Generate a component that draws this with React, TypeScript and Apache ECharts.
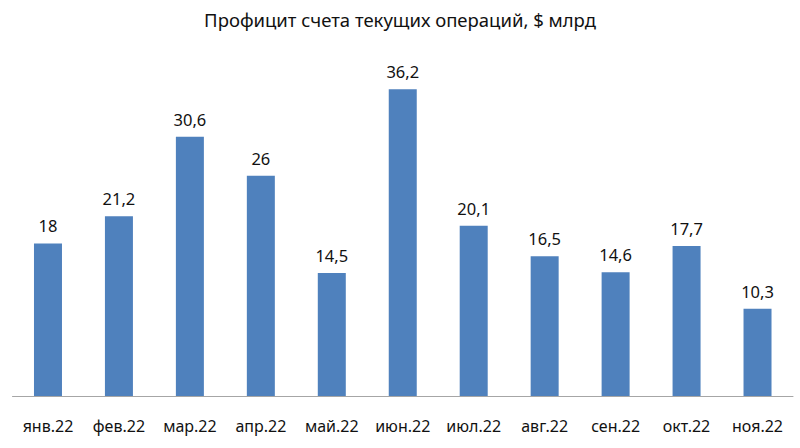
import React, { useEffect, useRef } from "react";
import * as echarts from "echarts";

const categories = ["янв.22", "фев.22", "мар.22", "апр.22", "май.22", "июн.22", "июл.22", "авг.22", "сен.22", "окт.22", "ноя.22"];
const values = [18, 21.2, 30.6, 26, 14.5, 36.2, 20.1, 16.5, 14.6, 17.7, 10.3];
const title = "Профицит счета текущих операций, $ млрд";

export default function App() {
  const ref = useRef<HTMLDivElement>(null);
  useEffect(() => {
    if (!ref.current) return;
    const chart = echarts.init(ref.current, undefined, { renderer: "svg" });
    const font = "'Noto Sans', 'Open Sans', sans-serif";
    chart.setOption({
      animation: false,
      backgroundColor: "#ffffff",
      title: {
        text: title,
        left: "center",
        top: 5,
        textStyle: { fontFamily: font, fontSize: 18.5, fontWeight: "normal", color: "#111" },
      },
      grid: { left: 12.5, right: 7, top: 57, bottom: 52 },
      xAxis: {
        type: "category",
        data: categories,
        axisTick: { show: false },
        axisLine: { lineStyle: { color: "#a6a6a6", width: 1 } },
        axisLabel: { fontFamily: font, fontSize: 16, color: "#111", margin: 22, interval: 0 },
      },
      yAxis: { type: "value", min: 0, max: 40, show: false, splitLine: { show: false } },
      series: [
        {
          type: "bar",
          data: values,
          barWidth: 28,
          itemStyle: { color: "#4f81bd" },
          label: {
            show: true,
            position: "top",
            distance: 9,
            fontFamily: font,
            fontSize: 16.5,
            color: "#111",
            formatter: (p: any) => String(p.value).replace(".", ","),
          },
        },
      ],
    });
    return () => chart.dispose();
  }, []);
  return <div ref={ref} style={{ position: "fixed", left: 0, top: 0, width: 800, height: 448 }} />;
}
